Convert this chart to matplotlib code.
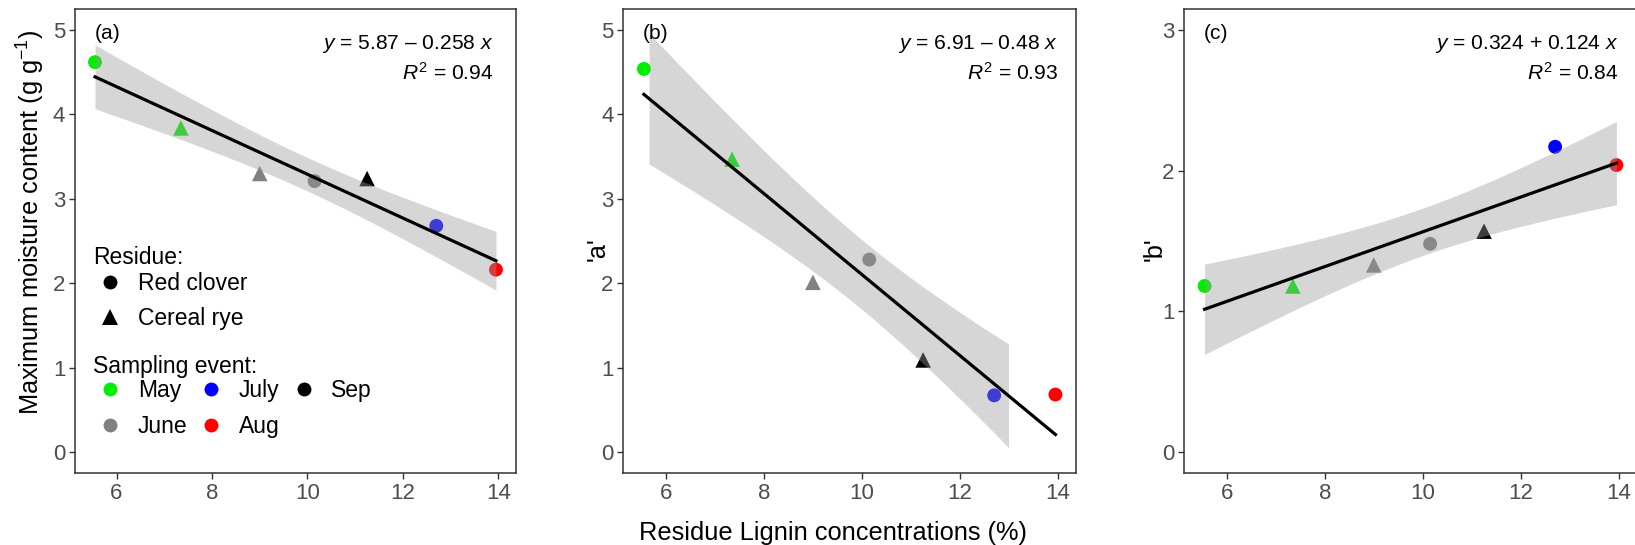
import numpy as np
import matplotlib
matplotlib.use("Agg")
import matplotlib.pyplot as plt
from matplotlib.lines import Line2D

plt.rcParams['font.family'] = ['Liberation Sans', 'DejaVu Sans']
plt.rcParams['mathtext.fontset'] = 'custom'
plt.rcParams['mathtext.rm'] = 'Liberation Sans'
plt.rcParams['mathtext.it'] = 'Liberation Sans:italic'

# ---- data ----
lignin = [5.55, 7.35, 9.0, 10.15, 11.25, 12.7, 13.95]
residue = ["Red clover", "Cereal rye", "Cereal rye", "Red clover", "Cereal rye", "Red clover", "Red clover"]
event = ["May", "May", "June", "June", "Sep", "July", "Aug"]
moisture = [4.62, 3.84, 3.30, 3.21, 3.24, 2.68, 2.16]
a_param = [4.54, 3.47, 2.01, 2.28, 1.09, 0.67, 0.68]
b_param = [1.18, 1.18, 1.33, 1.48, 1.57, 2.17, 2.04]

panel_labels = ["(a)", "(b)", "(c)"]
eq_texts = [r"$y$ = 5.87 – 0.258 $x$", r"$y$ = 6.91 – 0.48 $x$", r"$y$ = 0.324 + 0.124 $x$"]
r2_texts = [r"$R^2$ = 0.94", r"$R^2$ = 0.93", r"$R^2$ = 0.84"]
ylabels = [r"Maximum moisture content (g g$^{-1}$)", "'a'", "'b'"]
ylims = [(0, 5), (0, 5), (0, 3)]
yticks = [[0, 1, 2, 3, 4, 5], [0, 1, 2, 3, 4, 5], [0, 1, 2, 3]]
xticks = [6, 8, 10, 12, 14]

events_order = ["May", "June", "July", "Aug", "Sep"]
event_colors = {"May": "#00EE00", "June": "#808080", "July": "#0000FF", "Aug": "#FF0000", "Sep": "#000000"}
residue_order = ["Red clover", "Cereal rye"]
residue_markers = {"Red clover": "o", "Cereal rye": "^"}
residue_sizes = {"Red clover": 100, "Cereal rye": 125}

T975_DF5 = 2.5706

fig = plt.figure(figsize=(16.35, 5.45), dpi=100)
W, H = 1635.0, 545.0
bottom_px, top_px = 473.0, 9.0
lefts = [75.0, 623.3, 1184.0]
widths = [441.0, 452.7, 453.0]
axes = []
for l, w in zip(lefts, widths):
    axes.append(fig.add_axes([l / W, (H - bottom_px) / H, w / W, (bottom_px - top_px) / H]))

x = np.array(lignin)
ser = [np.array(moisture), np.array(a_param), np.array(b_param)]
tick_col = "#4D4D4D"
spine_col = "#333333"
FS_TICK = 16
FS_TXT = 15.1
FS_TITLE = 18.3
FS_LEG = 16.5

def ay(px):
    return (bottom_px - px) / (bottom_px - top_px)

for i, ax in enumerate(axes):
    y = ser[i]
    for xi, yi, r, e in zip(x, y, residue, event):
        ax.scatter([xi], [yi], marker=residue_markers[r], s=residue_sizes[r],
                   color=event_colors[e], edgecolors='none', zorder=2)
    # linear fit + 95% CI
    n = len(x)
    slope, icpt = np.polyfit(x, y, 1)
    xs = np.linspace(x.min(), x.max(), 80)
    yhat = icpt + slope * xs
    resid = y - (icpt + slope * x)
    s = np.sqrt(np.sum(resid ** 2) / (n - 2))
    se = s * np.sqrt(1.0 / n + (xs - x.mean()) ** 2 / np.sum((x - x.mean()) ** 2))
    lo, hi = yhat - T975_DF5 * se, yhat + T975_DF5 * se
    ylo, yhi = ylims[i]
    ok = (lo >= ylo) & (hi <= yhi)
    ax.fill_between(xs, lo, hi, where=ok, color="#999999", alpha=0.4, linewidth=0, zorder=3)
    okl = (yhat >= ylo) & (yhat <= yhi)
    ax.plot(xs[okl], yhat[okl], color="black", lw=2.3, zorder=4)

    rng = x.max() - x.min()
    ax.set_xlim(x.min() - 0.05 * rng, x.max() + 0.05 * rng)
    yr = ylims[i][1] - ylims[i][0]
    ax.set_ylim(ylims[i][0] - 0.05 * yr, ylims[i][1] + 0.05 * yr)
    ax.set_xticks(xticks)
    ax.set_yticks(yticks[i])
    ax.tick_params(axis='both', direction='out', length=4, width=1, color=spine_col,
                   labelcolor=tick_col, labelsize=FS_TICK, pad=3)
    for sp in ax.spines.values():
        sp.set_color(spine_col)
        sp.set_linewidth(1.1)

    ax.text(0.044, 0.948, panel_labels[i], transform=ax.transAxes, ha='left', va='center', fontsize=FS_TXT)
    xr = 0.948 if i == 0 else 0.96
    ax.text(xr, 0.925, eq_texts[i], transform=ax.transAxes, ha='right', va='center', fontsize=FS_TXT)
    ax.text(xr, 0.862, r2_texts[i], transform=ax.transAxes, ha='right', va='center', fontsize=FS_TXT)

fig.text(31 / W, (H - 222) / H, ylabels[0], rotation=90, ha='center', va='center', fontsize=FS_TITLE)
fig.text(598 / W, (H - 249) / H, ylabels[1], rotation=90, ha='center', va='center', fontsize=FS_TITLE)
fig.text(1155 / W, (H - 249) / H, ylabels[2], rotation=90, ha='center', va='center', fontsize=FS_TITLE)
fig.text(833 / W, (H - 533) / H, "Residue Lignin concentrations (%)", ha='center', va='center', fontsize=FS_TITLE)

# legends
ax = axes[0]
lx = (93 - lefts[0]) / widths[0]
ax.text(lx, ay(258), "Residue:", transform=ax.transAxes, ha='left', va='center', fontsize=FS_LEG)
ax.text(lx, ay(366), "Sampling event:", transform=ax.transAxes, ha='left', va='center', fontsize=FS_LEG)
res_handles = [Line2D([], [], marker=residue_markers[r], ls='', color='black',
                      markersize=(10 if r == "Red clover" else 11.5), markeredgewidth=0)
               for r in residue_order]
leg1 = ax.legend(res_handles, residue_order, loc='center left',
                 bbox_to_anchor=(lx, ay(301)), frameon=False,
                 fontsize=FS_LEG, handlelength=1.5, handletextpad=0.45,
                 labelspacing=0.56, borderpad=0, borderaxespad=0)
ax.add_artist(leg1)
ev_handles = [Line2D([], [], marker='o', ls='', color=event_colors[e], markersize=10,
                     markeredgewidth=0) for e in events_order]
leg2 = ax.legend(ev_handles, events_order, loc='center left',
                 bbox_to_anchor=(lx, ay(408.5)), frameon=False, ncol=3,
                 fontsize=FS_LEG, handlelength=1.5, handletextpad=0.45,
                 labelspacing=0.53, columnspacing=0.3, borderpad=0, borderaxespad=0)

fig.savefig("out.png", dpi=100)
